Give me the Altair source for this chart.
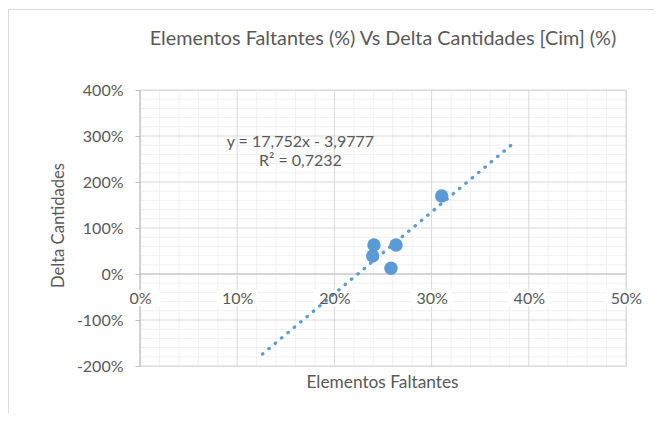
import altair as alt
import pandas as pd

# Data
x_vals = [0.2407, 0.2394, 0.2634, 0.2582, 0.3104]
y_vals = [0.63, 0.39, 0.63, 0.124, 1.696]

# Trendline stated on the chart
slope = 17.752
intercept = -3.9777
trend_extent = [0.126, 0.382]

# Axis ticks / grid
x_major = [0.0, 0.1, 0.2, 0.3, 0.4, 0.5]
y_major = [-2, -1, 0, 1, 2, 3, 4]
x_minor = [i / 50 for i in range(0, 26) if i % 5]
y_minor = [i / 5 for i in range(-10, 21) if i % 5]

# Equation annotation
eq_text = ["y = 17,752x - 3,9777", "R² = 0,7232"]
eq_x = [0.165, 0.165]
eq_y = [2.87, 2.45]

FONT = "Lato"
TXT = "#595959"
BLUE = "#5b9bd5"
W, H = 486, 276
LBL = 16

xs = alt.Scale(domain=[0, 0.5], nice=False, zero=False)
ys = alt.Scale(domain=[-2, 4], nice=False, zero=False)

pct_expr = "replace(format(datum.value, '.0%'), '\u2212', '-')"

x_axis = alt.Axis(
    values=x_major, labelExpr=pct_expr, offset=-92, domain=False, ticks=False, tickSize=0,
    grid=False, labelFont=FONT, labelFontSize=LBL, labelColor=TXT, labelFlush=False,
    labelPadding=24, labelBaseline="middle", zindex=1,
    title="Elementos Faltantes", titleFont=FONT, titleFontSize=17.3,
    titleFontWeight="normal", titleColor=TXT, titleX=W / 2 - 1, titleY=108,
    titleBaseline="middle", titleAlign="center")
y_axis = alt.Axis(
    values=y_major, labelExpr=pct_expr, domain=False, ticks=True, tickSize=5,
    tickColor="#bfbfbf", grid=False, labelFont=FONT, labelFontSize=LBL,
    labelColor=TXT, labelPadding=12, labelFlush=False, zindex=1,
    title="Delta Cantidades", titleFont=FONT, titleFontSize=16.6,
    titleFontWeight="normal", titleColor=TXT, titleX=-82, titleY=135,
    titleAngle=270, titleBaseline="middle", titleAlign="center")

def X(field):
    return alt.X(field, type="quantitative", scale=xs, axis=x_axis)

def Y(field):
    return alt.Y(field, type="quantitative", scale=ys, axis=y_axis)

pts = pd.DataFrame({"x": x_vals, "y": y_vals})
trend = pd.DataFrame({"x": trend_extent,
                      "y": [slope * v + intercept for v in trend_extent]})
eq = pd.DataFrame({"x": eq_x, "y": eq_y, "t": eq_text})

def vrules(vals, color):
    return alt.Chart(pd.DataFrame({"v": vals})).mark_rule(color=color, strokeWidth=1).encode(x=X("v"))

def hrules(vals, color):
    return alt.Chart(pd.DataFrame({"v": vals})).mark_rule(color=color, strokeWidth=1).encode(y=Y("v"))

minor_v = vrules(x_minor, "#f0f0f0")
minor_h = hrules(y_minor, "#f0f0f0")
major_v = vrules(x_major, "#d9d9d9")
major_h = hrules(y_major, "#d9d9d9")

base = alt.Chart(pd.DataFrame({"v": [0]}))
zero_h = base.mark_rule(color="#bfbfbf", strokeWidth=1).encode(y=Y("v"))
zero_v = base.mark_rule(color="#bfbfbf", strokeWidth=1).encode(x=X("v"))

# white boxes behind the x tick labels (Excel labels hide the gridlines)
label_boxes = alt.Chart(pd.DataFrame({"v": x_major})).transform_calculate(
    x1="datum.v - 0.021", x2="datum.v + 0.021", y1="-0.34", y2="-0.70"
).mark_rect(color="white").encode(
    x=X("x1:Q"), x2="x2:Q", y=Y("y1:Q"), y2="y2:Q")

trend_line = alt.Chart(trend).mark_line(
    color=BLUE, strokeWidth=3.3, strokeCap="round", strokeDash=[0.5, 7.8]
).encode(x=X("x"), y=Y("y"))

points = alt.Chart(pts).mark_circle(size=180, color=BLUE, opacity=1).encode(x=X("x"), y=Y("y"))

eq_text_layer = alt.Chart(eq).mark_text(
    font=FONT, fontSize=16, color=TXT, align="center", baseline="middle"
).encode(x=X("x"), y=Y("y"), text="t:N")

border = base.mark_rect(fillOpacity=0, stroke="#d9d9d9", strokeWidth=1).encode(
    x=alt.value(-131.5), x2=alt.value(W + 60), y=alt.value(-80.5), y2=alt.value(H + 80))

chart = alt.layer(
    border, minor_v, minor_h, major_v, major_h, zero_h, zero_v, label_boxes,
    trend_line, points, eq_text_layer
).properties(
    width=W, height=H,
    title=alt.TitleParams("Elementos Faltantes (%) Vs Delta Cantidades [Cim] (%)",
                          font=FONT, fontSize=19.8, fontWeight="normal", color=TXT,
                          anchor="middle", offset=0, dy=40),
    autosize=alt.AutoSizeParams(type="none"),
    padding={"left": 132, "top": 82, "right": 28, "bottom": 47},
).configure_view(stroke=None).configure(background="white")

chart.save("out.html", embed_options={"renderer": "svg", "actions": False})
